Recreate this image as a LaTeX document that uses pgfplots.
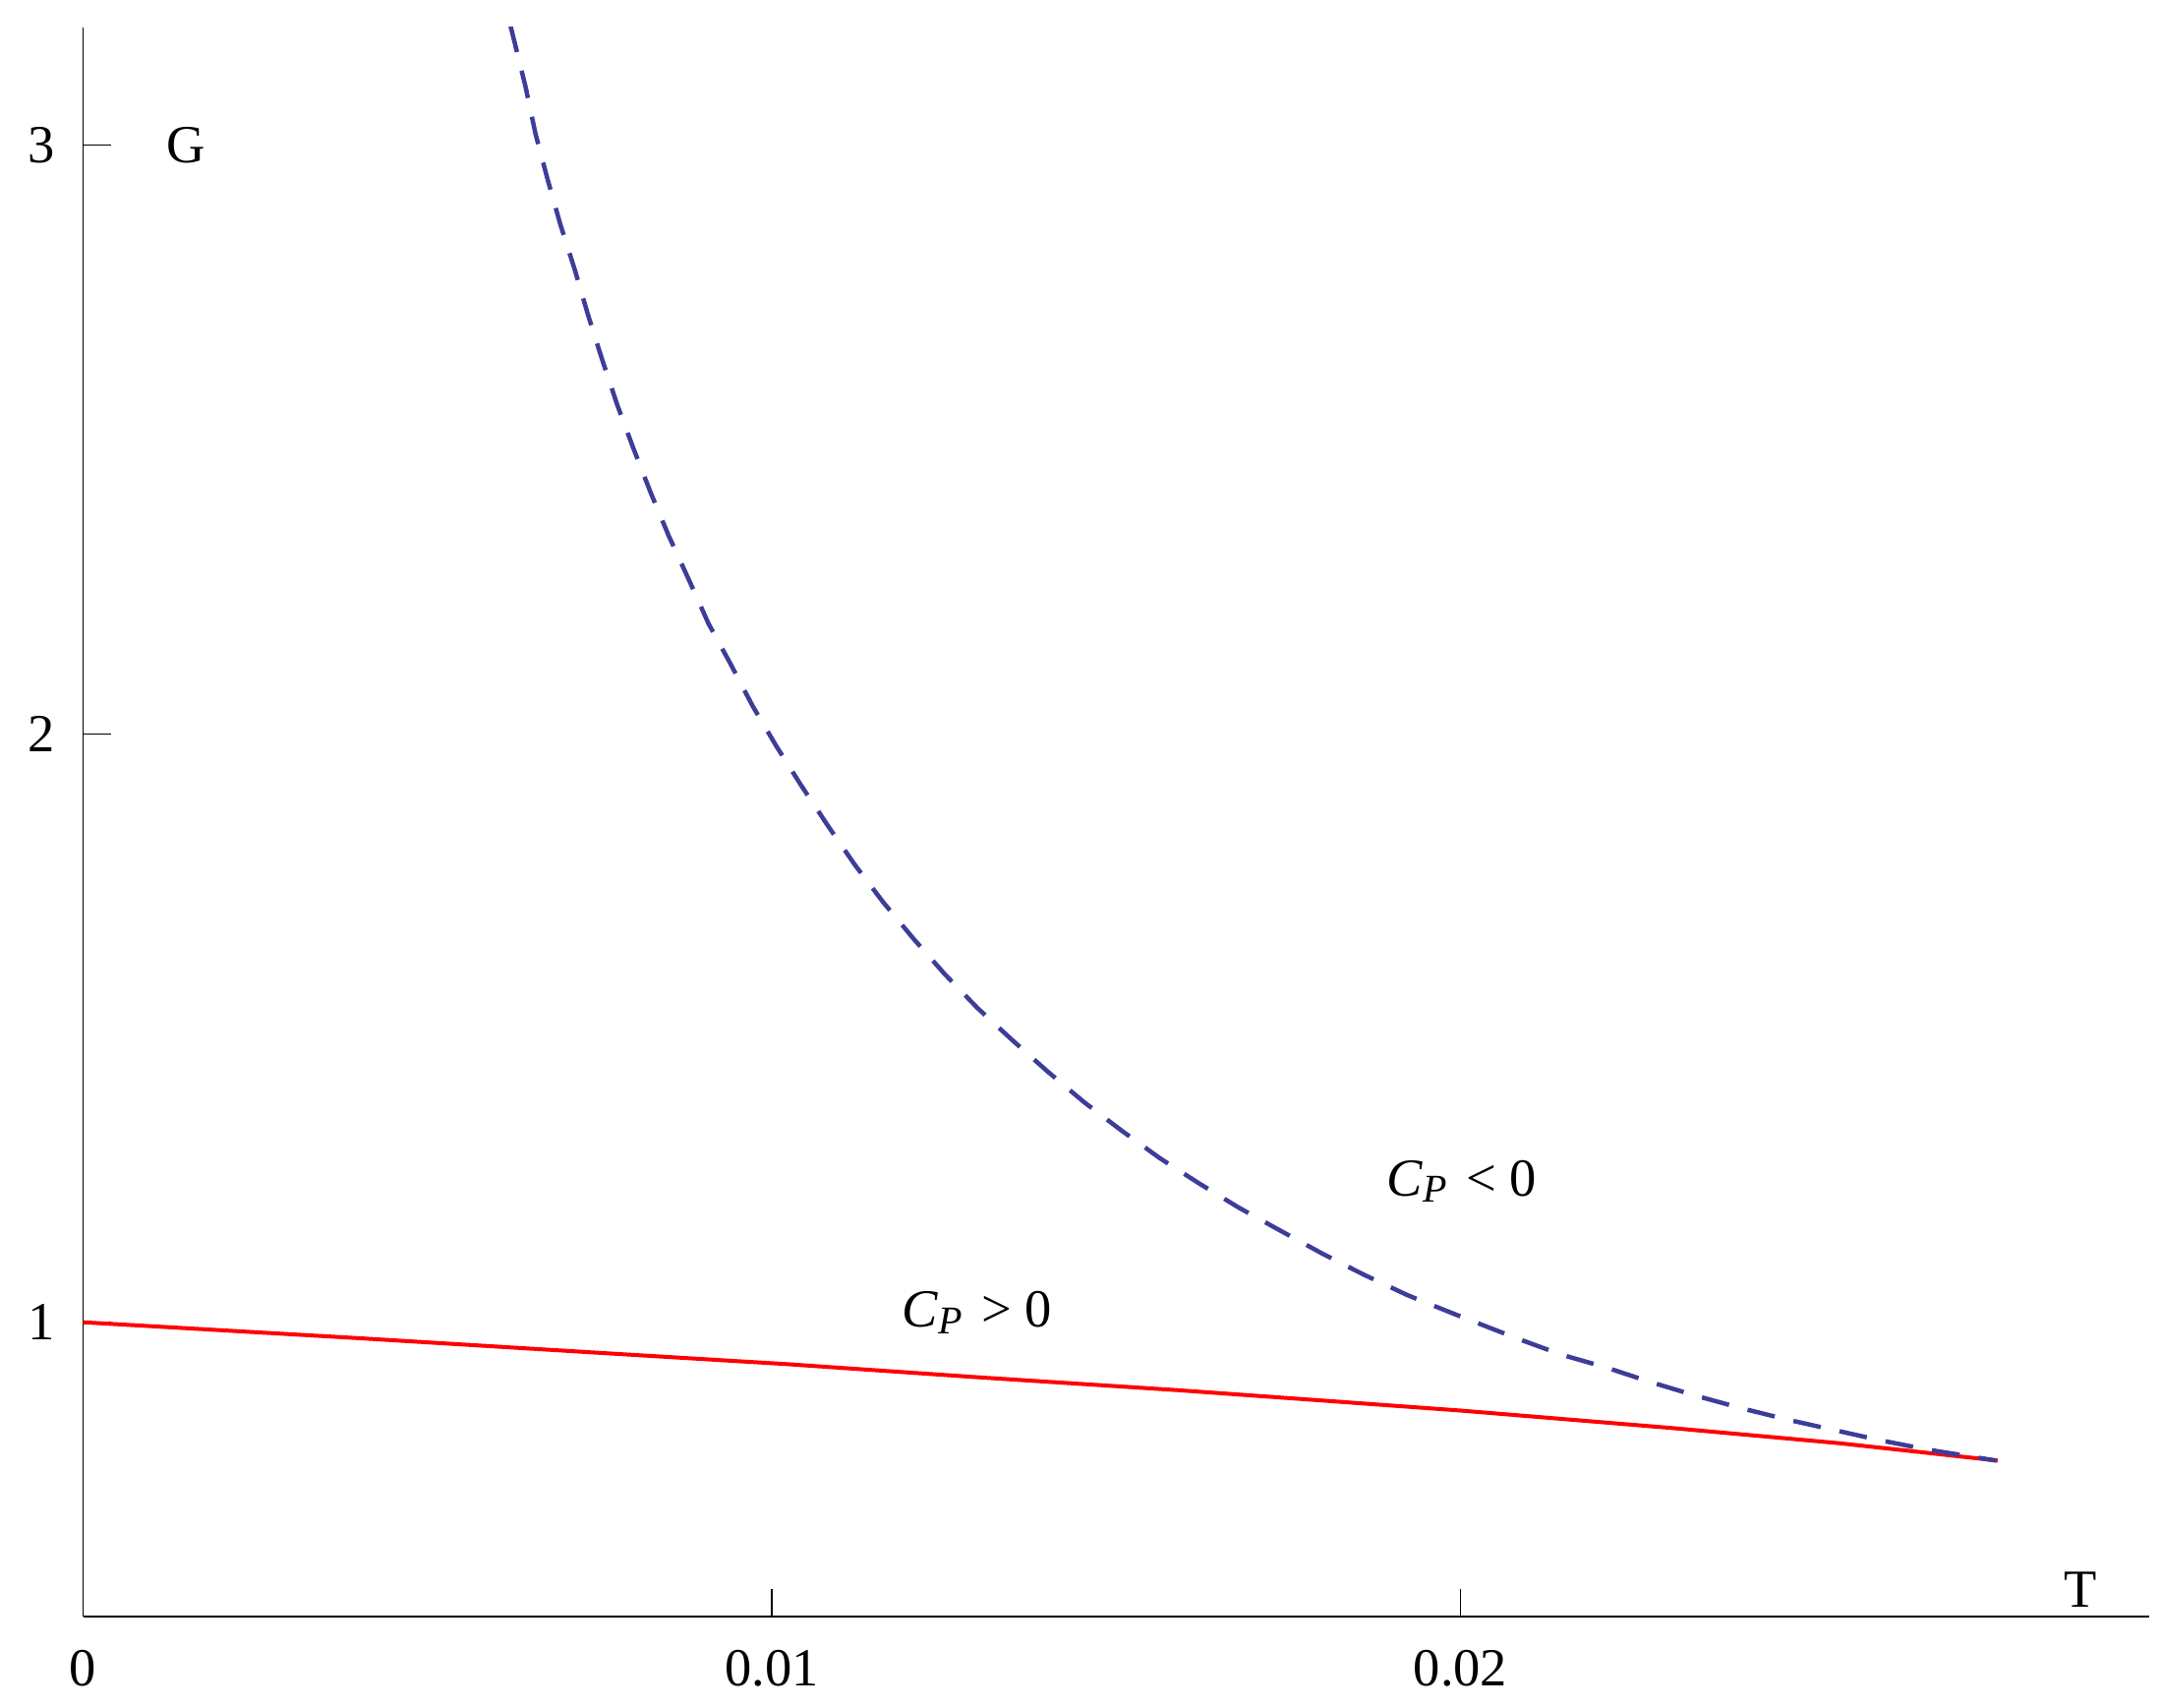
\documentclass[border=0pt]{standalone}
\usepackage{fontspec}
\setmainfont{Liberation Serif}
\usepackage{pgfplots}
\pgfplotsset{compat=1.18}
\definecolor{mblue}{rgb}{0.24,0.24,0.6}
\begin{document}
\begin{tikzpicture}[font=\fontsize{10.9}{13}\selectfont]
\path[use as bounding box] (-16.9pt,-18.6pt) rectangle (422.5pt,328.8pt);
\begin{axis}[
 at={(0,0)}, anchor=south west,
 scale only axis, width=420.3pt, height=323.2pt,
 xmin=0, xmax=0.03, ymin=0.5, ymax=3.2,
 axis lines=left, axis line style={-, line width=0.35pt},
 tick align=inside, major tick length=5.6pt,
 tick style={line width=0.25pt, black},
 xtick={0,0.01,0.02}, xticklabels={0,0.01,0.02},
 ytick={1,2,3}, yticklabels={1,2,3},
 xticklabel style={inner sep=0pt}, yticklabel style={inner sep=0pt},
 xticklabel shift=6.6pt, yticklabel shift=5.6pt,
 clip mode=individual,
]
\addplot[red, line width=0.8pt] coordinates {
(0,1.0) (0.004,0.973) (0.008,0.9445) (0.0102,0.929) (0.013,0.9065)
(0.0159,0.8846) (0.018,0.867) (0.02,0.850) (0.02306,0.8204) (0.0255,0.7945) (0.0278,0.765)
};
\addplot[mblue, line width=0.9pt, dash pattern=on 5.7pt off 3.9pt] coordinates {
(0.006203,3.2045) (0.006424,3.0997) (0.006570,3.019) (0.006745,2.942)
(0.006931,2.865) (0.007138,2.789) (0.007331,2.712) (0.007539,2.635)
(0.007759,2.558) (0.007987,2.486) (0.008244,2.409) (0.008501,2.337)
(0.008787,2.264) (0.009082,2.187) (0.009395,2.120) (0.009723,2.047)
(0.010066,1.979) (0.010428,1.912) (0.010819,1.843) (0.011202,1.778)
(0.011616,1.714) (0.012063,1.651) (0.012508,1.592) (0.012986,1.534)
(0.013496,1.479) (0.014006,1.426) (0.014535,1.374) (0.015076,1.326)
(0.015632,1.279) (0.016204,1.236) (0.016778,1.195) (0.017380,1.156)
(0.017989,1.117) (0.018594,1.081) (0.019232,1.046) (0.019869,1.016)
(0.020811,0.973) (0.021465,0.945) (0.022119,0.923) (0.022771,0.898)
(0.023425,0.875) (0.024077,0.854) (0.024731,0.835) (0.025420,0.817)
(0.026074,0.800) (0.026764,0.784) (0.027779,0.765)
};
\node at (axis cs:0.0015,3.0) {G};
\node at (axis cs:0.0290,0.545) {T};
\node[anchor=base west, inner sep=0pt] at (axis cs:0.01188,0.992)
 {\textit{C}\raisebox{-1.3pt}{\fontsize{8}{9}\selectfont\itshape P}\hspace{0.35em}>\hspace{0.25em}0};
\node[anchor=base west, inner sep=0pt] at (axis cs:0.01892,1.215)
 {\textit{C}\raisebox{-1.3pt}{\fontsize{8}{9}\selectfont\itshape P}\hspace{0.35em}<\hspace{0.25em}0};
\end{axis}
\end{tikzpicture}
\end{document}
